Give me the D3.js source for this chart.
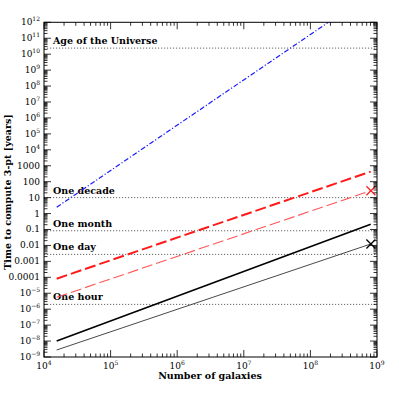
<!DOCTYPE html>
<html><head><meta charset="utf-8">
<script src="https://cdn.jsdelivr.net/npm/d3@7"></script>
<style>body{margin:0;background:#fff}</style>
</head><body>
<svg id="c" width="399" height="399"></svg>
<script>
// Data
const xDomain = [1e4, 1e9];
const yDomain = [1e-9, 1e12];
const xTickExps = [4, 5, 6, 7, 8, 9];
const yTickExps = [12, 11, 10, 9, 8, 7, 6, 5, 4, 3, 2, 1, 0, -1, -2, -3, -4, -5, -6, -7, -8, -9];
const yDecimalLabels = {"3":"1000","2":"100","1":"10","0":"1","-1":"0.1","-2":"0.01","-3":"0.001","-4":"0.0001"};
const refNames = ["Age of the Universe", "One decade", "One month", "One day", "One hour"];
const refValues = [2.4e10, 10, 0.0833, 0.00274, 2.0e-6];
// series: [N, time in years]
const blueN = [1.55e4, 1.86e8];
const blueT = [2.5, 1e12];
const redThickN = [1.55e4, 8.05e8];
const redThickT = [8.2e-5, 430];
const redThinN = [1.55e4, 8.05e8];
const redThinT = [5.6e-6, 27];
const blackThickN = [1.55e4, 8.05e8];
const blackThickT = [1.02e-8, 0.21];
const blackThinN = [1.55e4, 8.05e8];
const blackThinT = [2.75e-9, 0.0123];
const markerN = [8.1e8, 8.1e8];
const markerT = [27, 0.0123];
const markerColors = ["#ff2020", "#000000"];

const svg = d3.select("#c");
const L = 44, R = 377, T = 22.3, B = 357;
const x = d3.scaleLog().domain(xDomain).range([L, R]);
const y = d3.scaleLog().domain(yDomain).range([B, T]);
const font = "'DejaVu Serif', serif";

const defs = svg.append("defs");
defs.append("clipPath").attr("id","clip").append("rect")
  .attr("x", L).attr("y", T).attr("width", R-L).attr("height", B-T);

// reference dotted lines
const refG = svg.append("g");
refValues.forEach((v,i)=>{
  refG.append("line").attr("x1", L).attr("x2", R).attr("y1", y(v)).attr("y2", y(v))
    .attr("stroke", "#555").attr("stroke-width", 0.9).attr("stroke-dasharray", "1.2,1.8");
  refG.append("text").attr("x", 53).attr("y", y(v) - 4)
    .attr("font-family", font).attr("font-weight","bold").attr("font-size", 9.5)
    .attr("fill","#000").text(refNames[i]);
});

// series lines
const line = d3.line().x(d=>x(d[0])).y(d=>y(d[1]));
const seriesG = svg.append("g").attr("clip-path","url(#clip)");
function addLine(N, Tv, color, w, dash){
  seriesG.append("path").datum(N.map((n,i)=>[n, Tv[i]])).attr("d", line)
    .attr("fill","none").attr("stroke", color).attr("stroke-width", w)
    .attr("stroke-dasharray", dash);
}
addLine(blueN, blueT, "#1a1aff", 1.2, "5,2,1.2,2");
addLine(redThickN, redThickT, "#ff1a1a", 2, "11,4");
addLine(redThinN, redThinT, "#ff5555", 1.1, "11,4");
addLine(blackThickN, blackThickT, "#000", 1.6, null);
addLine(blackThinN, blackThinT, "#333", 0.9, null);

// X markers
markerN.forEach((n,i)=>{
  const cx = x(n), cy = y(markerT[i]), s = 4.5;
  svg.append("path").attr("d", `M${cx-s},${cy-s}L${cx+s},${cy+s}M${cx-s},${cy+s}L${cx+s},${cy-s}`)
    .attr("stroke", markerColors[i]).attr("stroke-width", 1.3).attr("fill","none");
});

// frame
svg.append("rect").attr("x", L).attr("y", T).attr("width", R-L).attr("height", B-T)
  .attr("fill","none").attr("stroke","#000").attr("stroke-width",1);

// ticks
const tg = svg.append("g").attr("stroke","#000").attr("stroke-width",0.8);
function minorVals(lo, hi){
  const out=[];
  for(let e=lo;e<hi;e++) for(let k=2;k<=9;k++) out.push(k*Math.pow(10,e));
  return out;
}
xTickExps.forEach(e=>{
  const px = x(Math.pow(10,e));
  tg.append("line").attr("x1",px).attr("x2",px).attr("y1",B).attr("y2",B-7);
  tg.append("line").attr("x1",px).attr("x2",px).attr("y1",T).attr("y2",T+7);
});
minorVals(4,9).forEach(v=>{
  const px = x(v);
  tg.append("line").attr("x1",px).attr("x2",px).attr("y1",B).attr("y2",B-3.5);
  tg.append("line").attr("x1",px).attr("x2",px).attr("y1",T).attr("y2",T+3.5);
});
yTickExps.forEach(e=>{
  const py = y(Math.pow(10,e));
  tg.append("line").attr("x1",L).attr("x2",L+7).attr("y1",py).attr("y2",py);
  tg.append("line").attr("x1",R).attr("x2",R-7).attr("y1",py).attr("y2",py);
});
minorVals(-9,12).forEach(v=>{
  const py = y(v);
  tg.append("line").attr("x1",L).attr("x2",L+3.5).attr("y1",py).attr("y2",py);
  tg.append("line").attr("x1",R).attr("x2",R-3.5).attr("y1",py).attr("y2",py);
});

// tick labels
const fs = 9;
xTickExps.forEach(e=>{
  const t = svg.append("text").attr("x", x(Math.pow(10,e))).attr("y", 369)
    .attr("text-anchor","middle").attr("font-family",font).attr("font-size",fs);
  t.append("tspan").text("10");
  t.append("tspan").attr("dy",-4).attr("font-size",6).text(String(e));
});
yTickExps.forEach(e=>{
  const py = y(Math.pow(10,e));
  const t = svg.append("text").attr("x", 40).attr("y", py+3)
    .attr("text-anchor","end").attr("font-family",font).attr("font-size",fs);
  if (yDecimalLabels[String(e)] !== undefined) {
    t.text(yDecimalLabels[String(e)]);
  } else {
    t.append("tspan").text("10");
    t.append("tspan").attr("dy",-4).attr("font-size",6).text(e<0 ? "\u2212"+(-e) : String(e));
  }
});

// axis titles
svg.append("text").attr("x", 210).attr("y", 379).attr("text-anchor","middle")
  .attr("font-family",font).attr("font-weight","bold").attr("font-size",9.5)
  .text("Number of galaxies");
svg.append("text").attr("transform","translate(11,192) rotate(-90)").attr("text-anchor","middle")
  .attr("font-family",font).attr("font-weight","bold").attr("font-size",9.5)
  .text("Time to compute 3-pt [years]");
</script>
</body></html>
